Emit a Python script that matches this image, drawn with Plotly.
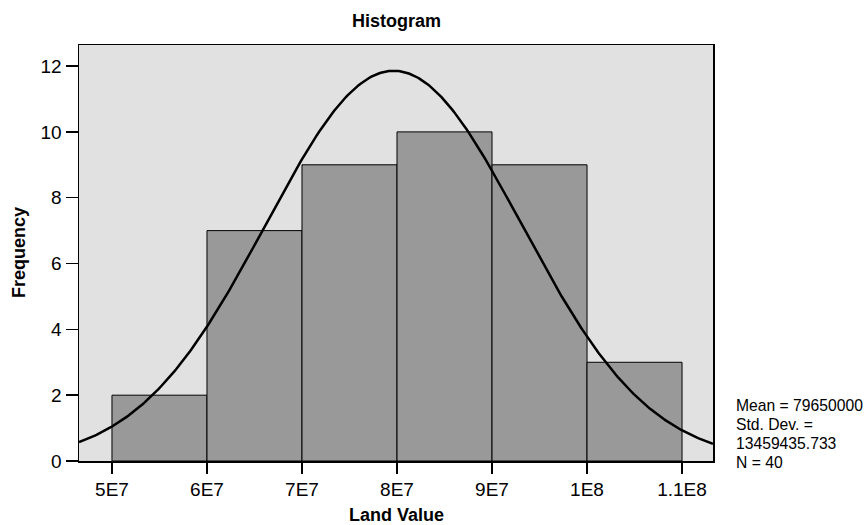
import numpy as np
import plotly.graph_objects as go

# Data
bin_left = [5e7, 6e7, 7e7, 8e7, 9e7, 1e8]
bin_width = 1e7
counts = [2, 7, 9, 10, 9, 3]
mean = 79650000
std = 13459435.733
n = 40
x_tickvals = [5e7, 6e7, 7e7, 8e7, 9e7, 1e8, 1.1e8]
x_ticktext = ["5E7", "6E7", "7E7", "8E7", "9E7", "1E8", "1.1E8"]
y_tickvals = [0, 2, 4, 6, 8, 10, 12]
stats_lines = ["Mean = 79650000", "Std. Dev. =", "13459435.733", "N = 40"]

x_range = [4.653e7, 1.1326e8]
y_range = [0, 12.64]

W, H = 864, 525
ML, MR, MT, MB = 79, 151, 45, 64

centers = [b + bin_width / 2 for b in bin_left]

xs = np.linspace(x_range[0], x_range[1], 400)
ys = n * bin_width / (std * np.sqrt(2 * np.pi)) * np.exp(-0.5 * ((xs - mean) / std) ** 2)

fig = go.Figure()
fig.add_trace(go.Bar(
    x=centers, y=counts, width=[bin_width] * len(counts),
    marker=dict(color="#999999", line=dict(color="black", width=1)),
    showlegend=False, hoverinfo="skip",
))
fig.add_trace(go.Scatter(
    x=xs, y=ys, mode="lines", line=dict(color="black", width=2.5),
    showlegend=False, hoverinfo="skip",
))

font_family = "Liberation Sans, Arial, sans-serif"
fig.update_layout(
    width=W, height=H,
    margin=dict(l=ML, r=MR, t=MT, b=MB, autoexpand=False),
    paper_bgcolor="white", plot_bgcolor="#e1e1e1",
    font=dict(family=font_family, color="black", size=19),
    bargap=0,
    xaxis=dict(range=x_range, tickvals=x_tickvals, ticktext=x_ticktext,
               showgrid=False, zeroline=False, showline=True, linecolor="black",
               linewidth=1.5, mirror=True, ticks="outside", ticklen=11,
               tickcolor="black", tickwidth=1.5, automargin=False,
               tickfont=dict(size=19)),
    yaxis=dict(range=y_range, tickvals=y_tickvals,
               showgrid=False, zeroline=False, showline=True, linecolor="black",
               linewidth=1.5, mirror=True, ticks="outside", ticklen=12,
               tickcolor="black", tickwidth=1.5, automargin=False,
               tickfont=dict(size=19)),
)

pw = W - ML - MR
ph = H - MT - MB


def px_x(x):
    return (x - ML) / pw


def px_y(y):
    return (H - MB - y) / ph


# Title and axis titles
fig.add_annotation(text="<b>Histogram</b>", xref="paper", yref="paper",
                   x=0.5, y=px_y(21), xanchor="center", yanchor="middle",
                   showarrow=False, font=dict(size=18))
fig.add_annotation(text="<b>Land Value</b>", xref="paper", yref="paper",
                   x=0.5, y=px_y(515), xanchor="center", yanchor="middle",
                   showarrow=False, font=dict(size=18))
fig.add_annotation(text="<b>Frequency</b>", xref="paper", yref="paper",
                   x=px_x(19), y=0.5, xanchor="center", yanchor="middle",
                   textangle=-90, showarrow=False, font=dict(size=18))

for i, line in enumerate(stats_lines):
    fig.add_annotation(text=line, xref="paper", yref="paper",
                       x=px_x(734), y=px_y(405 + 19 * i), xanchor="left", yanchor="middle",
                       align="left", showarrow=False, font=dict(size=15.7))

fig.write_html("out.html",
               config={"displayModeBar": False, "staticPlot": True},
               post_script="document.body.style.margin='0';document.body.style.overflow='hidden';")
